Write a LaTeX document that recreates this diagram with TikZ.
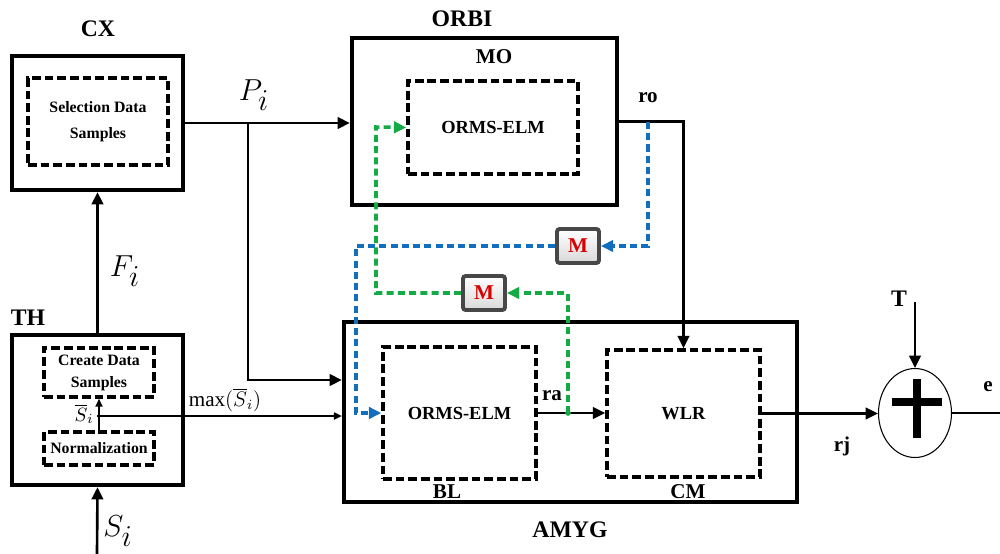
\documentclass[tikz,border=0pt]{standalone}
\usepackage{fontspec}
\setmainfont{Liberation Serif}
\usepackage{amsmath}
\usetikzlibrary{fit, shapes, arrows.meta}

\definecolor{fbblue}{RGB}{20,110,190}
\definecolor{fbgreen}{RGB}{20,170,70}

\begin{document}
\begin{tikzpicture}[x=0.02cm, y=-0.02cm,
		>={Triangle[length=7pt,width=6.5pt]},
		blk/.style={draw, line width=2.4pt, inner sep=0pt},
		sub/.style={draw, line width=2pt, dash pattern=on 5pt off 2.2pt, inner sep=0pt},
		hd/.style={font=\fontsize{13.5}{15}\selectfont\bfseries},
		lbl/.style={font=\fontsize{12}{14}\selectfont\bfseries},
		txt/.style={font=\fontsize{9}{12.5}\selectfont\bfseries, align=center},
		core/.style={font=\fontsize{10.5}{12}\selectfont\bfseries},
		mth/.style={font=\fontsize{17}{19}\selectfont},
		sig/.style={line width=1.5pt, ->},
		fine/.style={line width=0.9pt, -{Triangle[length=4.5pt,width=4pt]}},
		fb/.style={line width=2pt, dash pattern=on 4pt off 2.4pt, ->},
		mbox/.style={draw=black!72, line width=2.2pt, rounded corners=1.5pt, top color=white, bottom color=black!15,
			minimum width=0.84cm, minimum height=0.68cm, inner sep=0pt, font=\fontsize{12}{14}\selectfont\bfseries, text=red!85!black},
	]
	\useasboundingbox (0,0) rectangle (1000,554);

	\node[blk, fit={(12,56) (183,190)}] (cx) {};
	\node[sub, fit={(28,78) (168,165)}] (cxin) {};
	\node[blk, fit={(12,335) (183,485)}] (th) {};
	\node[sub, fit={(44,348) (154,397)}] (create) {};
	\node[sub, fit={(44,432) (154,465)}] (norm) {};
	\node[blk, fit={(352,38) (617,205)}] (orbi) {};
	\node[sub, fit={(408,81) (578,174)}] (mo) {};
	\node[blk, fit={(344,322) (797,502)}] (amyg) {};
	\node[sub, fit={(383,347) (536,479)}] (bl) {};
	\node[sub, fit={(607,350) (760,477)}] (cm) {};
	\node[draw, ellipse, line width=0.6pt, minimum width=1.46cm, minimum height=1.78cm, inner sep=0pt] (sum) at (915,413) {};
	\draw[line width=4.2pt] (917,402) ++(-25,0) -- ++(50,0) (917,379) -- (917,438);

	\node[txt] (t-sel) at (cxin) {Selection Data\\[2pt]Samples};
	\node[txt] (t-create) at (create) {Create Data\\Samples};
	\node[txt] (t-norm) at (norm) {Normalization};
	\node[core] (t-mo) at (mo) {ORMS-ELM};
	\node[core] (t-bl) at (bl) {ORMS-ELM};
	\node[core] (t-cm) at (cm) {WLR};

	\foreach \t/\p in {CX/{98,29}, TH/{28,318}, ORBI/{462,19}, AMYG/{570,530}, T/{899,299}}
		\node[hd] (l-\t) at (\p) {\t};
	\foreach \t/\p in {MO/{494,57}, ro/{648,98}, ra/{552,396}, BL/{447,492}, CM/{688,492}, rj/{842,446}, e/{988,387}}
		\node[lbl] (l-\t) at (\p) {\t};

	\node[mth] (l-p) at (254,95) {$P_{\textstyle i}$};
	\node[mth] (l-f) at (125,271) {$F_{\textstyle i}$};
	\node[mth] (l-s) at (118,531) {$S_{\textstyle i}$};
	\node[font=\fontsize{11}{13}\selectfont] (l-sbar) at (84,414) {$\overline{S}_i$};
	\node[font=\fontsize{12}{13}\selectfont] (l-max) at (225,400) {$\max(\overline{S}_i)$};

	\foreach \n/\p in {m1/{578,246}, m2/{484,293}}
		\node[mbox] (\n) at (\p) {M};

	\coordinate (pj) at (248,123);
	\coordinate (pin) at (248,380);
	\coordinate (sbar) at (97,416);
	\coordinate (sin) at (97,554);
	\coordinate (ro) at (648,122);
	\coordinate (ra) at (568,413);
	\coordinate (bk) at (356,413);
	\coordinate (gk) at (376,127);
	\coordinate (tin) at (915,302);
	\coordinate (eout) at (1000,413);

	\draw[sig] (cx.east) -- (cx.east -| orbi.west);
	\draw[sig] (pj) -- (pin) -- (pin -| amyg.west);
	\draw[sig] (th.north) -- (cx.south);
	\draw[sig] (sin) -- (th.south);
	\draw[fine] (norm.north) -- (create.south);
	\draw[fine] (sbar) -- (sbar -| amyg.west);
	\draw[sig] (orbi.east) -| (cm.north);
	\draw[sig] (bl.east) -- (bl.east -| cm.west);
	\draw[sig] (cm.east) -- (cm.east -| sum.west);
	\draw[sig] (tin) -- (sum.north);
	\draw[line width=1.5pt] (sum.east) -- (eout);

	\draw[fb, fbblue] (ro) |- (m1.east);
	\draw[fb, fbblue] (m1.west) -| (bk) -- (bl.west);
	\draw[fb, fbgreen] (ra) |- (m2.east);
	\draw[fb, fbgreen] (m2.west) -| (gk) -- (mo.west);
	\fill[fbgreen] (ra) circle (1.6pt);
\end{tikzpicture}
\end{document}
